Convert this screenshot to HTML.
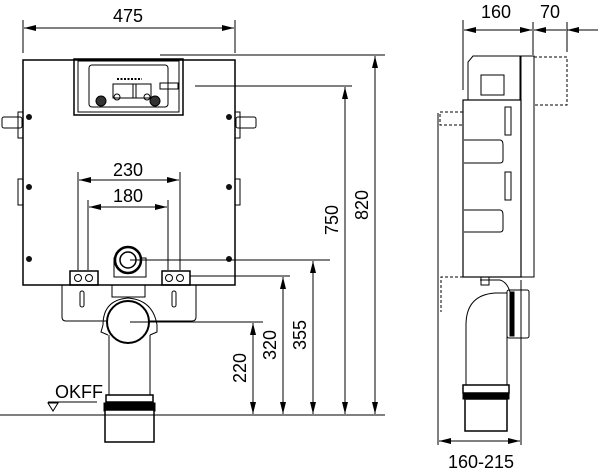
<!DOCTYPE html>
<html><head><meta charset="utf-8"><style>
html,body{margin:0;padding:0;background:#fff}
svg{display:block}
text{font-family:"Liberation Sans",sans-serif;font-size:18px;fill:#000}
</style></head><body>
<svg width="600" height="475" viewBox="0 0 600 475" xmlns="http://www.w3.org/2000/svg">
<defs>
<marker id="a" viewBox="0 0 12 6" refX="12" refY="3" markerWidth="12" markerHeight="6" orient="auto-start-reverse" markerUnits="userSpaceOnUse"><path d="M0,0L12,3L0,6z" fill="#000"/></marker>
</defs>
<g fill="#111">
<circle cx="29" cy="117" r="3"/><circle cx="229" cy="117" r="3"/>
<circle cx="29" cy="187" r="3"/><circle cx="229" cy="187" r="3"/>
<circle cx="29" cy="259" r="3"/><circle cx="229" cy="259" r="3"/>
</g>
<g stroke="#000" stroke-width="1" fill="none">
<line x1="23" y1="20" x2="23" y2="53"/><line x1="235" y1="20" x2="235" y2="53"/>
<line x1="24" y1="28" x2="234" y2="28" marker-start="url(#a)" marker-end="url(#a)"/>
<rect x="23" y="60" width="212" height="225" stroke-width="1.5"/>
<rect x="74" y="59" width="109" height="56" stroke-width="1.5"/>
<rect x="78" y="61" width="101" height="51"/>
<rect x="89" y="65" width="79" height="42" rx="3"/>
<rect x="113" y="84" width="38" height="14"/>
<line x1="133" y1="84" x2="133" y2="98"/><line x1="136" y1="84" x2="136" y2="98"/>
<rect x="160" y="83" width="18" height="6"/>
<circle cx="101" cy="101" r="5" fill="#333"/><circle cx="155" cy="101" r="5" fill="#333"/>
<circle cx="117" cy="97" r="3"/><circle cx="147" cy="97" r="3"/>
<line x1="117" y1="79" x2="142" y2="79" stroke-dasharray="2,1.5" stroke-width="2"/>
<line x1="160" y1="55" x2="385" y2="55"/>
<line x1="195" y1="86" x2="352" y2="86"/>
<rect x="2" y="117" width="20" height="11" rx="2"/><rect x="18" y="112" width="5" height="26"/>
<rect x="236" y="117" width="20" height="11" rx="2"/><rect x="235" y="112" width="5" height="26"/>
<rect x="18" y="179" width="5" height="26"/><rect x="235" y="179" width="5" height="26"/>
<line x1="78" y1="172" x2="78" y2="270"/><line x1="180" y1="172" x2="180" y2="270"/>
<line x1="79" y1="180" x2="179" y2="180" marker-start="url(#a)" marker-end="url(#a)"/>
<line x1="88" y1="200" x2="88" y2="270"/><line x1="168" y1="200" x2="168" y2="270"/>
<line x1="89" y1="207" x2="167" y2="207" marker-start="url(#a)" marker-end="url(#a)"/>
<rect x="114" y="258" width="32" height="19"/>
<circle cx="128" cy="260" r="13" fill="#fff" stroke-width="2.5"/>
<circle cx="128" cy="260" r="8" stroke-width="1.5"/>
<line x1="130" y1="260" x2="330" y2="260"/>
<rect x="70" y="271" width="28" height="14" stroke-width="1.5"/><circle cx="78" cy="278" r="3.5"/><circle cx="89" cy="278" r="3.5"/>
<rect x="162" y="271" width="28" height="14" stroke-width="1.5"/><circle cx="169" cy="278" r="3.5"/><circle cx="180" cy="278" r="3.5"/>
<line x1="190" y1="276" x2="290" y2="276"/>
<path d="M62,285 L62,317 Q62,321 66,321 L192,321 Q196,321 196,317 L196,285"/>
<rect x="80" y="291" width="4" height="16" rx="2"/><rect x="172" y="291" width="4" height="16" rx="2"/>
<rect x="112" y="285" width="33" height="12"/>
<path d="M103,325 Q103,300 128,298 Q153,300 157,325 L157,332 L150,335 M103,325 L101,332 L108,335"/>
<line x1="109" y1="335" x2="109" y2="395"/><line x1="150" y1="335" x2="150" y2="395"/>
<circle cx="128" cy="322" r="21" fill="#fff" stroke-width="2"/>
<line x1="130" y1="322" x2="263" y2="322"/>
<rect x="106" y="395" width="47" height="7" stroke-width="1.5"/>
<rect x="104" y="403" width="51" height="8" fill="#000"/>
<rect x="105" y="410" width="49" height="32" fill="#fff" stroke-width="1.5"/>
<line x1="0" y1="415" x2="385" y2="415"/>
<line x1="48" y1="402" x2="97" y2="402"/>
<path d="M48,403 L58,403 L53,411 Z"/>
<line x1="253" y1="323" x2="253" y2="414" marker-start="url(#a)" marker-end="url(#a)"/>
<line x1="283" y1="277" x2="283" y2="414" marker-start="url(#a)" marker-end="url(#a)"/>
<line x1="313" y1="261" x2="313" y2="414" marker-start="url(#a)" marker-end="url(#a)"/>
<line x1="345" y1="87" x2="345" y2="414" marker-start="url(#a)" marker-end="url(#a)"/>
<line x1="375" y1="56" x2="375" y2="414" marker-start="url(#a)" marker-end="url(#a)"/>
<line x1="463" y1="20" x2="463" y2="90"/><line x1="533" y1="22" x2="533" y2="55"/><line x1="567" y1="22" x2="567" y2="52"/>
<line x1="464" y1="30" x2="532" y2="30" marker-start="url(#a)" marker-end="url(#a)"/>
<line x1="534" y1="30" x2="566" y2="30" marker-start="url(#a)"/>
<line x1="567" y1="30" x2="598" y2="30" marker-start="url(#a)"/>
<path d="M468,100 L468,62 L473,56 L520,56 L520,100"/>
<rect x="481" y="75" width="23" height="20"/>
<rect x="463" y="100" width="58" height="177" stroke-width="1.2"/>
<rect x="521" y="56" width="13" height="221"/>
<path d="M534,57 L567,57 L567,105 L534,105" stroke-dasharray="3,2"/>
<path d="M463,112 L440,112 L440,125 L463,125" stroke-dasharray="3,2"/>
<line x1="438" y1="113" x2="438" y2="445"/>
<path d="M463,277 L441,277 L441,312" stroke-dasharray="3,2"/>
<rect x="505" y="107" width="6" height="28"/><rect x="505" y="172" width="6" height="28"/>
<path d="M464,140 L500,140 Q503,140 503,145 L503,160 Q503,163 500,163 L464,163"/>
<path d="M464,210 L500,210 Q503,210 503,215 L503,229 Q503,232 500,232 L464,232"/>
<path d="M466,385 L466,325 Q466,295 495,293 L507,293"/>
<line x1="507" y1="292" x2="507" y2="385"/>
<rect x="507" y="290" width="22" height="48" rx="2"/>
<rect x="510" y="292" width="4" height="44" fill="#000"/>
<path d="M480,280 L500,280 Q507,282 510,292"/>
<rect x="481" y="277" width="8" height="8"/>
<rect x="463" y="385" width="46" height="8" stroke-width="1.5"/>
<rect x="463" y="393" width="46" height="6" fill="#000"/>
<rect x="465" y="399" width="42" height="32" stroke-width="1.5"/>
<line x1="521" y1="280" x2="521" y2="445"/>
<line x1="439" y1="441" x2="520" y2="441" marker-start="url(#a)" marker-end="url(#a)"/>
</g>
<text x="128" y="22" text-anchor="middle">475</text>
<text x="128" y="176" text-anchor="middle">230</text>
<text x="128" y="202" text-anchor="middle">180</text>
<text x="55" y="398" font-size="16">OKFF</text>
<text transform="translate(246,368) rotate(-90)" text-anchor="middle">220</text>
<text transform="translate(276,345) rotate(-90)" text-anchor="middle">320</text>
<text transform="translate(306,335) rotate(-90)" text-anchor="middle">355</text>
<text transform="translate(338,220) rotate(-90)" text-anchor="middle">750</text>
<text transform="translate(368,205) rotate(-90)" text-anchor="middle">820</text>
<text x="496" y="18" text-anchor="middle">160</text>
<text x="550" y="18" text-anchor="middle">70</text>
<text x="481" y="468" text-anchor="middle">160-215</text>
</svg>
</body></html>
